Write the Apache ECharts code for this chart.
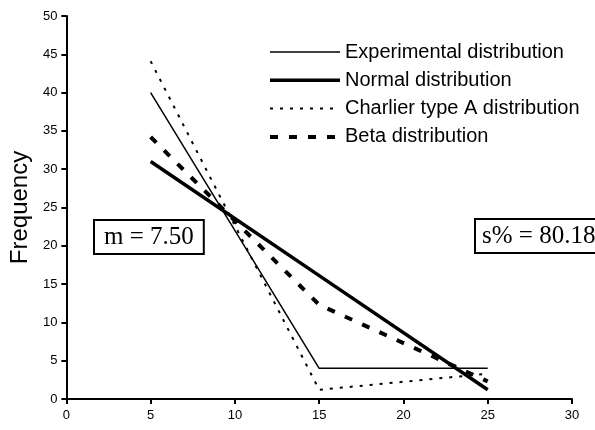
<!DOCTYPE html>
<html>
<head>
<meta charset="utf-8">
<script src="https://cdn.jsdelivr.net/npm/echarts@6/dist/echarts.min.js"></script>
<style>html,body{margin:0;padding:0;background:#fff;}#c{width:595px;height:430px;}</style>
</head>
<body>
<div id="c"></div>
<script>
var classMids = [5, 15, 25];
var experimental = [40, 4, 4];
var normal = [31, 16.1, 1.2];
var charlier = [44.1, 1.2, 3.3];
var beta = [34.2, 12.3, 2.3];
var xTicks = [0, 30, 5];
var yTicks = [0, 50, 5];
var seriesNames = ['Experimental distribution', 'Normal distribution', 'Charlier type A distribution', 'Beta distribution'];
var meanText = 'm = 7.50';
var sText = 's% = 80.18';

function pairs(vals) { return classMids.map(function (x, i) { return [x, vals[i]]; }); }

var styles = [
  { color: '#000', width: 1.5, type: 'solid' },
  { color: '#000', width: 3.5, type: 'solid' },
  { color: '#000', width: 2, type: [3, 7] },
  { color: '#000', width: 4, type: [8, 11] }
];
var allVals = [experimental, normal, charlier, beta];

var chart = echarts.init(document.getElementById('c'));
var sans = 'Liberation Sans, Arial, sans-serif';
var serif = 'Liberation Serif, Times New Roman, serif';
chart.setOption({
  animation: false,
  grid: { left: 63, right: 23, top: 16, bottom: 31 },
  legend: {
    orient: 'vertical', left: 263, top: 37, padding: 5, itemWidth: 70, itemHeight: 20, itemGap: 8.3,
    itemStyle: { opacity: 0 },
    textStyle: { fontFamily: sans, fontSize: 20, lineHeight: 20, color: '#000' },
    data: seriesNames.map(function (n, i) {
      return { name: n, itemStyle: { opacity: 0 }, lineStyle: { width: styles[i].width, type: styles[i].type, color: '#000' } };
    })
  },
  xAxis: {
    type: 'value', min: xTicks[0], max: xTicks[1], interval: xTicks[2],
    splitLine: { show: false },
    axisLine: { onZero: false, lineStyle: { color: '#000', width: 2 } },
    axisTick: { lineStyle: { color: '#000', width: 2 }, length: 5 },
    axisLabel: { color: '#000', fontFamily: sans, fontSize: 13, margin: 10 }
  },
  yAxis: {
    type: 'value', min: yTicks[0], max: yTicks[1], interval: yTicks[2],
    name: 'Frequency', nameLocation: 'middle', nameGap: 24, nameRotate: 90,
    nameTextStyle: { fontFamily: sans, fontSize: 24, color: '#000' },
    splitLine: { show: false },
    axisLine: { show: true, lineStyle: { color: '#000', width: 2 } },
    axisTick: { show: true, lineStyle: { color: '#000', width: 2 }, length: 5 },
    axisLabel: { color: '#000', fontFamily: sans, fontSize: 13, margin: 9 }
  },
  series: seriesNames.map(function (n, i) {
    return { name: n, type: 'line', data: pairs(allVals[i]), symbol: 'none',
      lineStyle: styles[i], itemStyle: { color: '#000' } };
  }),
  graphic: [
    { type: 'text', left: 93, top: 219, z: 100,
      style: { text: meanText, font: '25px ' + serif, fill: '#000', backgroundColor: '#fff',
        borderColor: '#000', borderWidth: 2, padding: [4, 9, 3, 9] } },
    { type: 'text', left: 474, top: 218, z: 100,
      style: { text: sText, font: '25px ' + serif, fill: '#000', backgroundColor: '#fff',
        borderColor: '#000', borderWidth: 2, padding: [4, 8, 3, 6] } }
  ]
});
</script>
</body>
</html>
